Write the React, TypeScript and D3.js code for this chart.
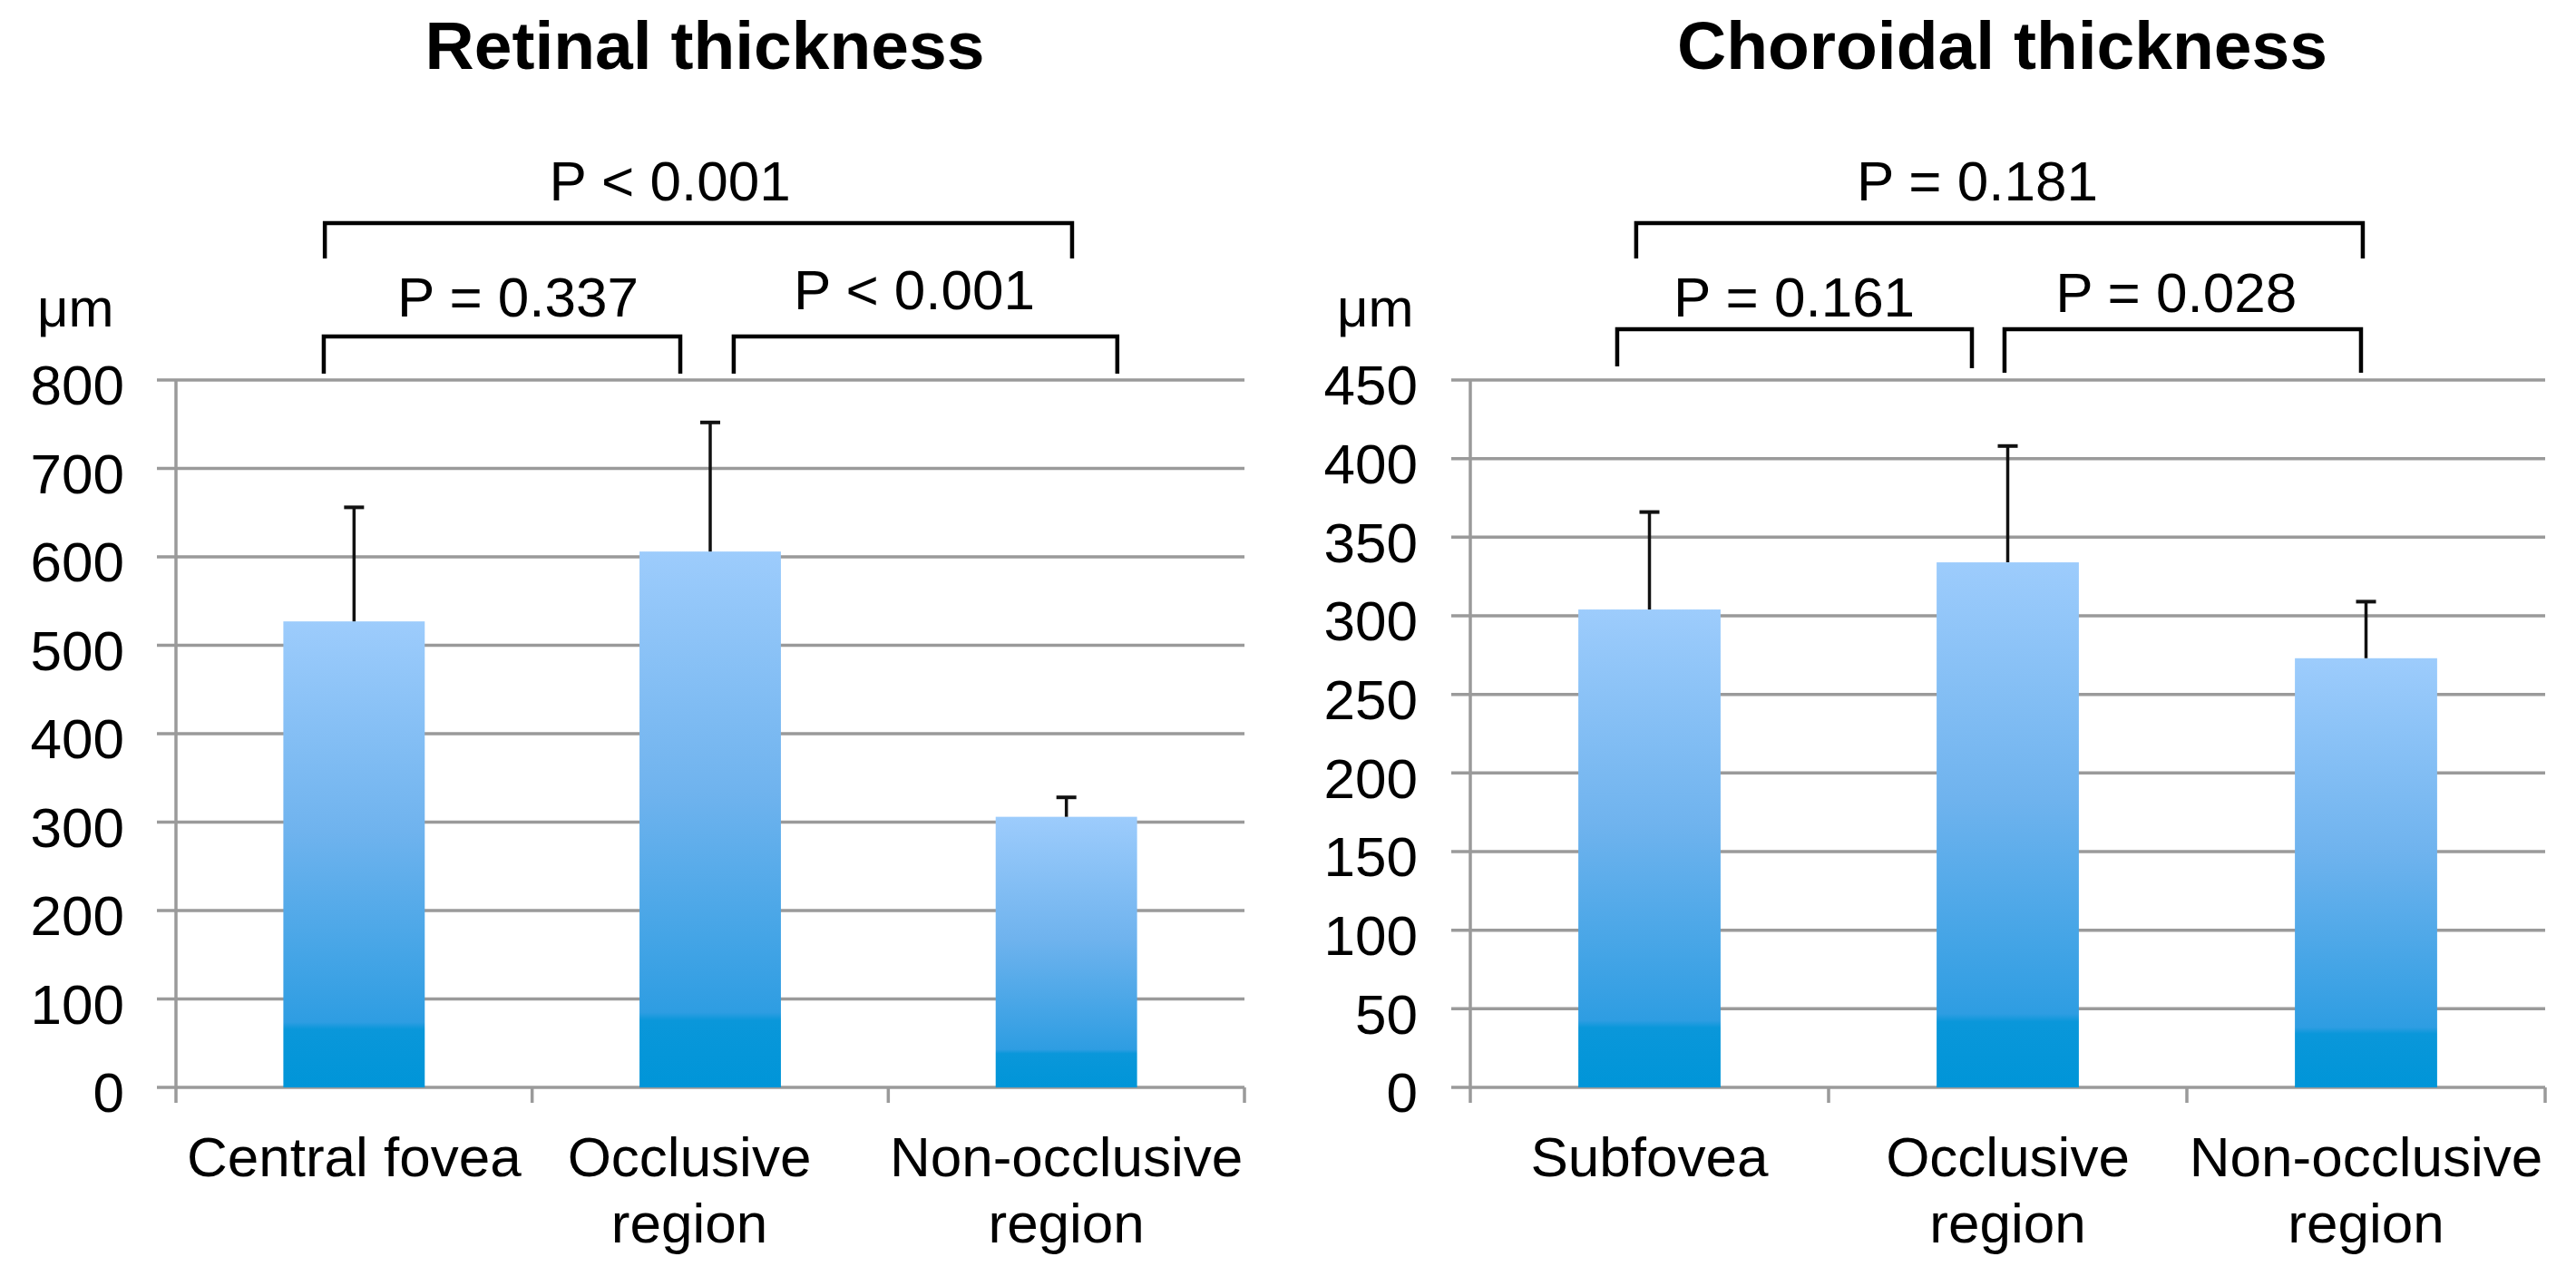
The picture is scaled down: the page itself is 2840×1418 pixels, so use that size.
import * as d3 from "d3";

// chart values
const retinaCategories = [["Central fovea"], ["Occlusive", "region"], ["Non-occlusive", "region"]];
const retinaMeans = [527, 606, 306];
const retinaSD = [129, 146, 22];
const retinaTicks = [0, 100, 200, 300, 400, 500, 600, 700, 800];
const retinaP = ["P < 0.001", "P = 0.337", "P < 0.001"];

const choroidCategories = [["Subfovea"], ["Occlusive", "region"], ["Non-occlusive", "region"]];
const choroidMeans = [304, 334, 273];
const choroidSD = [62, 74, 36];
const choroidTicks = [0, 50, 100, 150, 200, 250, 300, 350, 400, 450];
const choroidP = ["P = 0.181", "P = 0.161", "P = 0.028"];

const W = 2840;
const H = 1418;
const FONT = "'Liberation Sans', Arial, Helvetica, sans-serif";
const GRID = "#9a9a9a";

type Bracket = { from: number; to: number; y: number; legL: number; legR: number; textX: number; textY: number };

type PanelProps = {
  id: string;
  title: string;
  cats: string[][];
  means: number[];
  sds: number[];
  ticks: number[];
  pLabels: string[];
  x0: number;
  x1: number;
  labelRight: number;
  unitX: number;
  labelShift: number[];
  brackets: Bracket[];
};

function Panel(p: PanelProps) {
  const yTop = 419;
  const yBottom = 1199;
  const yMax = p.ticks[p.ticks.length - 1];

  const y = d3.scaleLinear().domain([0, yMax]).range([yBottom, yTop]);
  const x = d3
    .scaleBand<number>()
    .domain(p.cats.map((_, i) => i))
    .range([p.x0, p.x1])
    .padding(0);
  // continuous position in category units, used for the comparison brackets
  const xc = d3.scaleLinear().domain([0, p.cats.length]).range([p.x0, p.x1]);

  const barW = x.bandwidth() * 0.397;
  const gradId = `grad-${p.id}`;

  return (
    <g>
      <defs>
        <linearGradient id={gradId} x1="0" y1="0" x2="0" y2="1">
          <stop offset="0%" stopColor="#9dccfc" />
          <stop offset="45%" stopColor="#6fb3ee" />
          <stop offset="86%" stopColor="#2e9de2" />
          <stop offset="87.5%" stopColor="#0a97da" />
          <stop offset="100%" stopColor="#0095d8" />
        </linearGradient>
      </defs>

      {/* title */}
      <text
        x={(p.x0 + p.x1) / 2 - 6}
        y={76}
        textAnchor="middle"
        fontFamily={FONT}
        fontWeight="bold"
        fontSize={75}
        fill="#000"
      >
        {p.title}
      </text>

      {/* gridlines + y labels */}
      {p.ticks.map((t) => (
        <g key={t}>
          <line x1={p.x0 - 21} x2={p.x1} y1={y(t)} y2={y(t)} stroke={GRID} strokeWidth={3.5} />
          <text
            x={p.labelRight}
            y={y(t)}
            dy="0.44em"
            textAnchor="end"
            fontFamily={FONT}
            fontSize={62}
            fill="#000"
          >
            {t}
          </text>
        </g>
      ))}

      {/* y axis */}
      <line x1={p.x0} x2={p.x0} y1={yTop} y2={yBottom + 17} stroke={GRID} strokeWidth={3.5} />
      {/* category ticks */}
      {d3.range(1, p.cats.length + 1).map((i) => (
        <line key={i} x1={xc(i)} x2={xc(i)} y1={yBottom} y2={yBottom + 17} stroke={GRID} strokeWidth={3.5} />
      ))}

      {/* bars */}
      {p.means.map((m, i) => {
        const cx = (x(i) ?? 0) + x.bandwidth() / 2;
        return (
          <g key={i}>
            <rect x={cx - barW / 2} y={y(m)} width={barW} height={y(0) - y(m)} fill={`url(#${gradId})`} />
            <line x1={cx} x2={cx} y1={y(m)} y2={y(m + p.sds[i])} stroke="#111" strokeWidth={3.5} />
            <line x1={cx - 11} x2={cx + 11} y1={y(m + p.sds[i])} y2={y(m + p.sds[i])} stroke="#111" strokeWidth={4} />
          </g>
        );
      })}

      {/* category labels */}
      {p.cats.map((lines, i) => {
        const cx = (x(i) ?? 0) + x.bandwidth() / 2 + p.labelShift[i];
        return (
          <text key={i} textAnchor="middle" fontFamily={FONT} fontSize={62} fill="#000">
            {lines.map((ln, k) => (
              <tspan key={k} x={cx} y={1297 + k * 73}>
                {ln}
              </tspan>
            ))}
          </text>
        );
      })}

      {/* unit */}
      <text x={p.unitX} y={360} fontFamily={FONT} fontSize={60} fill="#000">
        μm
      </text>

      {/* comparison brackets */}
      {p.brackets.map((b, i) => {
        const xa = xc(b.from);
        const xb = xc(b.to);
        return (
          <g key={i}>
            <path
              d={`M${xa},${b.y + b.legL} L${xa},${b.y} L${xb},${b.y} L${xb},${b.y + b.legR}`}
              fill="none"
              stroke="#000"
              strokeWidth={4.5}
            />
            <text x={xc(b.textX)} y={b.textY} textAnchor="middle" fontFamily={FONT} fontSize={62} fill="#000">
              {p.pLabels[i]}
            </text>
          </g>
        );
      })}
    </g>
  );
}

export default function App() {
  return (
    <div style={{ position: "absolute", left: 0, top: 0 }}>
      <svg width={W} height={H} viewBox={`0 0 ${W} ${H}`} style={{ display: "block", background: "#fff" }}>
        <rect width={W} height={H} fill="#fff" />
        <Panel
          id="retina"
          title="Retinal thickness"
          cats={retinaCategories}
          means={retinaMeans}
          sds={retinaSD}
          ticks={retinaTicks}
          pLabels={retinaP}
          x0={194}
          x1={1372}
          labelRight={137}
          unitX={41}
          labelShift={[0, -23, 0]}
          brackets={[
            { from: 0.418, to: 2.516, y: 246, legL: 39, legR: 39, textX: 1.387, textY: 221 },
            { from: 0.415, to: 1.416, y: 371, legL: 41, legR: 41, textX: 0.96, textY: 349 },
            { from: 1.566, to: 2.643, y: 371, legL: 41, legR: 41, textX: 2.073, textY: 341 },
          ]}
        />
        <Panel
          id="choroid"
          title="Choroidal thickness"
          cats={choroidCategories}
          means={choroidMeans}
          sds={choroidSD}
          ticks={choroidTicks}
          pLabels={choroidP}
          x0={1621}
          x1={2806}
          labelRight={1563}
          unitX={1474}
          labelShift={[0, 0, 0]}
          brackets={[
            { from: 0.463, to: 2.491, y: 246, legL: 39, legR: 39, textX: 1.415, textY: 221 },
            { from: 0.41, to: 1.4, y: 363, legL: 41, legR: 43, textX: 0.904, textY: 349 },
            { from: 1.491, to: 2.486, y: 363, legL: 48, legR: 48, textX: 1.97, textY: 344 },
          ]}
        />
      </svg>
    </div>
  );
}
